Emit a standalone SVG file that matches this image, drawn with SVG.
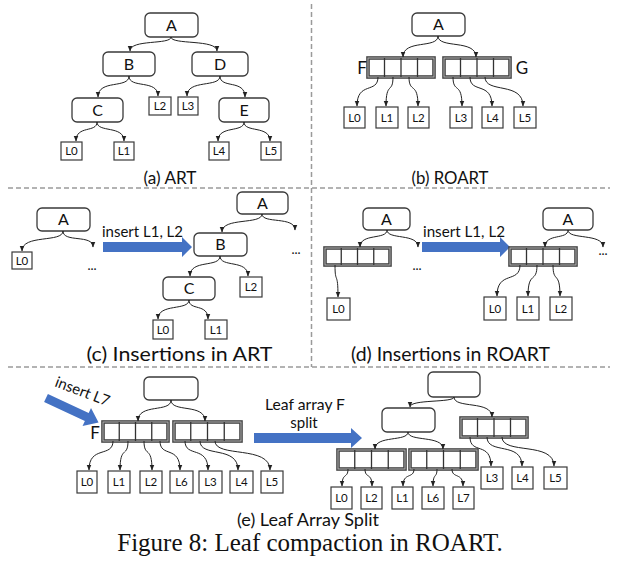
<svg xmlns="http://www.w3.org/2000/svg" width="617" height="572" viewBox="0 0 617 572">
<defs>
<marker id="ah" markerUnits="userSpaceOnUse" markerWidth="6" markerHeight="6" viewBox="0 0 10 10" refX="9" refY="5" orient="auto">
<path d="M0,1 L10,5 L0,9 Z" fill="#222"/>
</marker>
</defs>
<style>
.n rect{fill:#fff;stroke:#3a3a3a;stroke-width:1.3}
.n text{font-family:Lato,"Liberation Sans",sans-serif;font-size:16px;text-anchor:middle;fill:#111}
.lf rect{fill:#fff;stroke:#3a3a3a;stroke-width:1.2}
.lf text{font-family:Lato,"Liberation Sans",sans-serif;font-size:11.5px;text-anchor:middle;fill:#111}
.ar .fr{fill:#fff;stroke:#444;stroke-width:3.6}
.ar .fi{fill:none;stroke:#bbb;stroke-width:0.9}
.ar line{stroke:#333;stroke-width:1.3}
#conn path{fill:none;stroke:#222;stroke-width:1;marker-end:url(#ah)}
.dash{stroke:#9a9a9a;stroke-width:1.5;stroke-dasharray:5 3;fill:none}
.cap{font-family:Lato,"Liberation Sans",sans-serif;text-anchor:middle;fill:#111}
.t{font-family:Lato,"Liberation Sans",sans-serif;fill:#111}
.blue{fill:#4472C4}
.fig{font-family:"Liberation Serif","Times New Roman",serif;font-size:25px;text-anchor:middle;fill:#111}
</style>
<rect width="617" height="572" fill="#fff"/>
<g id="dividers">
<line class="dash" x1="8" y1="188" x2="610" y2="188"/>
<line class="dash" x1="8" y1="367" x2="610" y2="367"/>
<line class="dash" x1="311.5" y1="4" x2="311.5" y2="367"/>
</g>
<!-- (a) -->
<g id="a_A" class="n"><rect x="145" y="13" width="53" height="24" rx="5"/><text x="171.5" y="30.5">A</text></g>
<g id="a_B" class="n"><rect x="103" y="52" width="52" height="24" rx="5"/><text x="129" y="69.5">B</text></g>
<g id="a_D" class="n"><rect x="192" y="52" width="56" height="24" rx="5"/><text x="220" y="69.5">D</text></g>
<g id="a_C" class="n"><rect x="72" y="98" width="51" height="24" rx="5"/><text x="97.5" y="115.5">C</text></g>
<g id="a_E" class="n"><rect x="219" y="98" width="50" height="24" rx="5"/><text x="244" y="115.5">E</text></g>
<g id="a_L2" class="lf"><rect x="149" y="97" width="22" height="18"/><text x="160" y="110">L2</text></g>
<g id="a_L3" class="lf"><rect x="178" y="97" width="20" height="18"/><text x="188" y="110">L3</text></g>
<g id="a_L0" class="lf"><rect x="61" y="142" width="21" height="18"/><text x="71.5" y="155">L0</text></g>
<g id="a_L1" class="lf"><rect x="114" y="142" width="20" height="18"/><text x="124" y="155">L1</text></g>
<g id="a_L4" class="lf"><rect x="209" y="142" width="20" height="18"/><text x="219" y="155">L4</text></g>
<g id="a_L5" class="lf"><rect x="261" y="142" width="20" height="18"/><text x="271" y="155">L5</text></g>
<text class="cap" x="170" y="184" font-size="17.5" textLength="53" lengthAdjust="spacingAndGlyphs">(a) ART</text>
<!-- (b) -->
<g id="b_A" class="n"><rect x="412" y="13" width="53" height="23" rx="5"/><text x="438.5" y="30">A</text></g>
<g id="b_F" class="ar"><rect class="fr" x="368" y="58" width="66" height="19"/><rect class="fi" x="368" y="58" width="66" height="19"/><line x1="384.5" y1="58" x2="384.5" y2="77"/><line x1="401" y1="58" x2="401" y2="77"/><line x1="417.5" y1="58" x2="417.5" y2="77"/></g>
<g id="b_G" class="ar"><rect class="fr" x="444" y="58" width="66" height="19"/><rect class="fi" x="444" y="58" width="66" height="19"/><line x1="460.5" y1="58" x2="460.5" y2="77"/><line x1="477" y1="58" x2="477" y2="77"/><line x1="493.5" y1="58" x2="493.5" y2="77"/></g>
<text class="t" x="362" y="74" font-size="17" text-anchor="middle">F</text>
<text class="t" x="522" y="74" font-size="17" text-anchor="middle">G</text>
<g id="b_L0" class="lf"><rect x="344" y="107" width="21" height="21"/><text x="354.5" y="121.5">L0</text></g>
<g id="b_L1" class="lf"><rect x="376" y="107" width="22" height="21"/><text x="387" y="121.5">L1</text></g>
<g id="b_L2" class="lf"><rect x="408" y="107" width="21" height="21"/><text x="418.5" y="121.5">L2</text></g>
<g id="b_L3" class="lf"><rect x="450" y="107" width="22" height="21"/><text x="461" y="121.5">L3</text></g>
<g id="b_L4" class="lf"><rect x="482" y="107" width="21" height="21"/><text x="492.5" y="121.5">L4</text></g>
<g id="b_L5" class="lf"><rect x="514" y="107" width="22" height="21"/><text x="525" y="121.5">L5</text></g>
<text class="cap" x="450" y="184" font-size="17.5" textLength="77" lengthAdjust="spacingAndGlyphs">(b) ROART</text>
<!-- (c) -->
<g id="c_A1" class="n"><rect x="37" y="208" width="53" height="23" rx="5"/><text x="63.5" y="225">A</text></g>
<g id="c_L0a" class="lf"><rect x="12" y="252" width="20" height="17"/><text x="22" y="264.5">L0</text></g>
<text class="t" x="92" y="270" font-size="13" text-anchor="middle">...</text>
<polygon class="blue" points="103,242 182,242 182,237 192,247 182,257 182,252 103,252"/>
<text class="t" x="102" y="236.5" font-size="15" textLength="81" lengthAdjust="spacingAndGlyphs">insert L1, L2</text>
<g id="c_A2" class="n"><rect x="237" y="192" width="51" height="22" rx="5"/><text x="262.5" y="208.5">A</text></g>
<g id="c_B" class="n"><rect x="194" y="233" width="53" height="23" rx="5"/><text x="220.5" y="250">B</text></g>
<g id="c_C" class="n"><rect x="163" y="277" width="52" height="23" rx="5"/><text x="189" y="294">C</text></g>
<g id="c_L2" class="lf"><rect x="240" y="277" width="22" height="20"/><text x="251" y="291">L2</text></g>
<g id="c_L0" class="lf"><rect x="153" y="320" width="20" height="19"/><text x="163" y="333.5">L0</text></g>
<g id="c_L1" class="lf"><rect x="205" y="320" width="22" height="19"/><text x="216" y="333.5">L1</text></g>
<text class="t" x="296" y="254" font-size="13" text-anchor="middle">...</text>
<text class="cap" x="179.5" y="361" font-size="20" textLength="186" lengthAdjust="spacingAndGlyphs">(c) Insertions in ART</text>
<!-- (d) -->
<g id="d_A1" class="n"><rect x="363" y="208" width="47" height="22" rx="5"/><text x="386.5" y="224.5">A</text></g>
<g id="d_arr1" class="ar"><rect class="fr" x="325" y="248" width="65" height="17"/><rect class="fi" x="325" y="248" width="65" height="17"/><line x1="341.25" y1="248" x2="341.25" y2="265"/><line x1="357.5" y1="248" x2="357.5" y2="265"/><line x1="373.75" y1="248" x2="373.75" y2="265"/></g>
<g id="d_L0a" class="lf"><rect x="327" y="298" width="23" height="22"/><text x="338.5" y="313">L0</text></g>
<text class="t" x="417" y="270" font-size="13" text-anchor="middle">...</text>
<polygon class="blue" points="422,242 500,242 500,237 510,247 500,257 500,252 422,252"/>
<text class="t" x="423" y="236.5" font-size="15" textLength="82" lengthAdjust="spacingAndGlyphs">insert L1, L2</text>
<g id="d_A2" class="n"><rect x="543" y="208" width="50" height="22" rx="5"/><text x="568" y="224.5">A</text></g>
<g id="d_arr2" class="ar"><rect class="fr" x="510" y="248" width="66" height="17"/><rect class="fi" x="510" y="248" width="66" height="17"/><line x1="526.5" y1="248" x2="526.5" y2="265"/><line x1="543" y1="248" x2="543" y2="265"/><line x1="559.5" y1="248" x2="559.5" y2="265"/></g>
<g id="d_L0" class="lf"><rect x="484" y="297" width="22" height="23"/><text x="495" y="312.5">L0</text></g>
<g id="d_L1" class="lf"><rect x="517" y="297" width="22" height="23"/><text x="528" y="312.5">L1</text></g>
<g id="d_L2" class="lf"><rect x="550" y="297" width="22" height="23"/><text x="561" y="312.5">L2</text></g>
<text class="t" x="603" y="255" font-size="13" text-anchor="middle">...</text>
<text class="cap" x="450.5" y="361" font-size="20" textLength="199" lengthAdjust="spacingAndGlyphs">(d) Insertions in ROART</text>
<!-- (e) left -->
<g transform="translate(46,398) rotate(25)"><polygon class="blue" points="0,-4.5 45,-4.5 45,-10 58,0 45,10 45,4.5 0,4.5"/></g>
<text class="t" x="54" y="386" font-size="15" transform="rotate(21 54 386)" textLength="57" lengthAdjust="spacingAndGlyphs">insert L7</text>
<text class="t" x="95" y="439" font-size="17" text-anchor="middle">F</text>
<g id="e_top1" class="n"><rect x="144" y="377" width="54" height="23" rx="5"/></g>
<g id="e_F" class="ar"><rect class="fr" x="103" y="422" width="65" height="19"/><rect class="fi" x="103" y="422" width="65" height="19"/><line x1="119.25" y1="422" x2="119.25" y2="441"/><line x1="135.5" y1="422" x2="135.5" y2="441"/><line x1="151.75" y1="422" x2="151.75" y2="441"/></g>
<g id="e_G" class="ar"><rect class="fr" x="174" y="422" width="67" height="19"/><rect class="fi" x="174" y="422" width="67" height="19"/><line x1="190.75" y1="422" x2="190.75" y2="441"/><line x1="207.5" y1="422" x2="207.5" y2="441"/><line x1="224.25" y1="422" x2="224.25" y2="441"/></g>
<g id="e_L0" class="lf"><rect x="77" y="471" width="20" height="22"/><text x="87" y="486">L0</text></g>
<g id="e_L1" class="lf"><rect x="108" y="471" width="22" height="22"/><text x="119" y="486">L1</text></g>
<g id="e_L2" class="lf"><rect x="140" y="471" width="22" height="22"/><text x="151" y="486">L2</text></g>
<g id="e_L6" class="lf"><rect x="170" y="471" width="23" height="22"/><text x="181.5" y="486">L6</text></g>
<g id="e_L3" class="lf"><rect x="199" y="471" width="23" height="22"/><text x="210.5" y="486">L3</text></g>
<g id="e_L4" class="lf"><rect x="230" y="471" width="23" height="22"/><text x="241.5" y="486">L4</text></g>
<g id="e_L5" class="lf"><rect x="261" y="471" width="22" height="22"/><text x="272" y="486">L5</text></g>
<text class="t" x="305" y="410" font-size="15" text-anchor="middle" textLength="80" lengthAdjust="spacingAndGlyphs">Leaf array F</text>
<text class="t" x="304" y="428" font-size="15" text-anchor="middle">split</text>
<polygon class="blue" points="254,433 351,433 351,428 362,438 351,448 351,443 254,443"/>
<!-- (e) right -->
<g id="e_top2" class="n"><rect x="428" y="372" width="52" height="25" rx="5"/></g>
<g id="e_mid" class="n"><rect x="382" y="408" width="53" height="24" rx="5"/></g>
<g id="e_G2" class="ar"><rect class="fr" x="461" y="418" width="66" height="19"/><rect class="fi" x="461" y="418" width="66" height="19"/><line x1="477.5" y1="418" x2="477.5" y2="437"/><line x1="494" y1="418" x2="494" y2="437"/><line x1="510.5" y1="418" x2="510.5" y2="437"/></g>
<g id="e_F1" class="ar"><rect class="fr" x="338" y="450" width="67" height="19"/><rect class="fi" x="338" y="450" width="67" height="19"/><line x1="354.75" y1="450" x2="354.75" y2="469"/><line x1="371.5" y1="450" x2="371.5" y2="469"/><line x1="388.25" y1="450" x2="388.25" y2="469"/></g>
<g id="e_F2" class="ar"><rect class="fr" x="410" y="450" width="67" height="19"/><rect class="fi" x="410" y="450" width="67" height="19"/><line x1="426.75" y1="450" x2="426.75" y2="469"/><line x1="443.5" y1="450" x2="443.5" y2="469"/><line x1="460.25" y1="450" x2="460.25" y2="469"/></g>
<g id="e_rL3" class="lf"><rect x="481" y="467" width="22" height="22"/><text x="492" y="482">L3</text></g>
<g id="e_rL4" class="lf"><rect x="512" y="467" width="21" height="22"/><text x="522.5" y="482">L4</text></g>
<g id="e_rL5" class="lf"><rect x="544" y="467" width="23" height="22"/><text x="555.5" y="482">L5</text></g>
<g id="e_rL0" class="lf"><rect x="331" y="487" width="21" height="22"/><text x="341.5" y="502">L0</text></g>
<g id="e_rL2" class="lf"><rect x="361" y="487" width="21" height="22"/><text x="371.5" y="502">L2</text></g>
<g id="e_rL1" class="lf"><rect x="392" y="487" width="21" height="22"/><text x="402.5" y="502">L1</text></g>
<g id="e_rL6" class="lf"><rect x="422" y="487" width="22" height="22"/><text x="433" y="502">L6</text></g>
<g id="e_rL7" class="lf"><rect x="453" y="487" width="21" height="22"/><text x="463.5" y="502">L7</text></g>
<text class="cap" x="308" y="526" font-size="17" textLength="142" lengthAdjust="spacingAndGlyphs">(e) Leaf Array Split</text>
<!-- connectors -->
<g id="conn">
<path d="M171,37 C171,45 130,39 130,51"/>
<path d="M171,37 C171,45 217,39 217,51"/>
<path d="M129,76 C129,89 98,79 98,97"/>
<path d="M129,76 C129,89 158,79 158,96"/>
<path d="M220,76 C220,88 187,79 187,96"/>
<path d="M220,76 C220,89 245,79 245,97"/>
<path d="M97,122 C97,133 76,125 76,141"/>
<path d="M97,122 C97,133 124,125 124,141"/>
<path d="M244,122 C244,133 218,125 218,141"/>
<path d="M244,122 C244,133 270,125 270,141"/>
<path d="M438,36 C438,49 403,39 403,57"/>
<path d="M438,36 C438,49 476,39 476,57"/>
<path d="M378,77 C378,94 357,81 357,106"/>
<path d="M393,77 C393,94 386,81 386,106"/>
<path d="M409,77 C409,94 418,81 418,106"/>
<path d="M453,77 C453,94 462,81 462,106"/>
<path d="M470,77 C470,94 492,81 492,106"/>
<path d="M485,77 C485,94 523,81 523,106"/>
<path d="M63,231 C63,243 22,234 22,251"/>
<path d="M63,231 C63,243 93,234 93,247"/>
<path d="M262,214 C262,225 222,217 222,232"/>
<path d="M262,214 C262,224 295,216 295,230"/>
<path d="M220,256 C220,268 190,259 190,276"/>
<path d="M220,256 C220,268 248,259 248,276"/>
<path d="M189,300 C189,311 158,303 158,319"/>
<path d="M189,300 C189,311 208,303 208,319"/>
<path d="M387,230 C387,240 360,233 360,247"/>
<path d="M387,230 C387,240 418,233 418,247"/>
<path d="M335,265 C335,285 338,270 338,297"/>
<path d="M568,230 C568,240 545,233 545,247"/>
<path d="M568,230 C568,240 603,233 603,247"/>
<path d="M520,265 C520,284 497,270 497,296"/>
<path d="M537,265 C537,284 528,270 528,296"/>
<path d="M553,265 C553,284 560,270 560,296"/>
<path d="M171,400 C171,413 138,403 138,421"/>
<path d="M171,400 C171,413 205,403 205,421"/>
<path d="M113,441 C113,458 89,445 89,470"/>
<path d="M128,441 C128,458 120,445 120,470"/>
<path d="M144,441 C144,458 152,445 152,470"/>
<path d="M160,441 C160,458 180,445 180,470"/>
<path d="M185,441 C185,458 208,445 208,470"/>
<path d="M200,441 C200,458 238,445 238,470"/>
<path d="M215,441 C215,458 270,445 270,470"/>
<path d="M454,397 C454,403 410,399 410,407"/>
<path d="M454,397 C454,409 492,400 492,417"/>
<path d="M408,432 C408,442 375,435 375,449"/>
<path d="M408,432 C408,442 443,435 443,449"/>
<path d="M470,437 C470,455 491,441 491,466"/>
<path d="M487,437 C487,455 522,441 522,466"/>
<path d="M502,437 C502,455 554,441 554,466"/>
<path d="M348,469 C348,479 342,472 342,486"/>
<path d="M365,469 C365,479 372,472 372,486"/>
<path d="M414,469 C414,479 403,472 403,486"/>
<path d="M437,469 C437,479 433,472 433,486"/>
<path d="M452,469 C452,479 463,472 463,486"/>
</g>
<text class="fig" x="310" y="551">Figure 8: Leaf compaction in ROART.</text>
</svg>
